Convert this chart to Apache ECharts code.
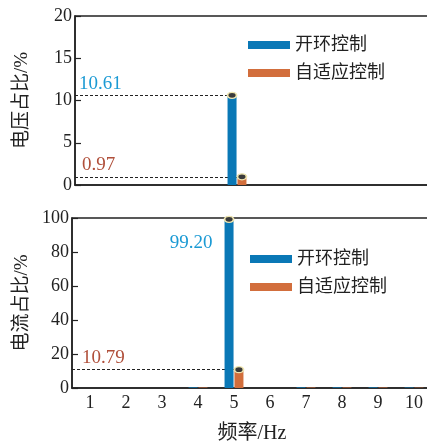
<!DOCTYPE html>
<html>
<head>
<meta charset="utf-8">
<script src="https://cdn.jsdelivr.net/npm/echarts@6/dist/echarts.min.js"></script>
<style>
  html, body { margin: 0; padding: 0; background: #fff; }
  #chart { width: 427px; height: 443px; }
</style>
</head>
<body>
<div id="chart"></div>
<script>
// Harmonic content at each frequency (Hz), in percent
const freqLabels = ['1', '2', '3', '4', '5', '6', '7', '8', '9', '10'];
const seriesNames = ['开环控制', '自适应控制'];

const voltOpenLoop = [0, 0, 0, 0, 10.61, 0, 0, 0, 0, 0];
const voltAdaptive = [0, 0, 0, 0, 0.97, 0, 0, 0, 0, 0];
const currOpenLoop = [0, 0, 0, 0.4, 99.20, 0, 0.4, 0.4, 0.4, 0.3];
const currAdaptive = [0, 0, 0, 0.3, 10.79, 0, 0.3, 0.3, 0.3, 0.2];

const voltTicks = [0, 5, 10, 15, 20];
const currTicks = [0, 20, 40, 60, 80, 100];

const FONT = '"Liberation Serif", "Noto Sans CJK SC", serif';
const INK = '#222';
const BLUE = '#0a78b6';
const ORANGE = '#d26e3c';
const BLUE_TXT = '#1b9ad4';
const RED_TXT = '#b04f3a';

const grids = [
  { left: 75, top: 16, width: 360, height: 169 },
  { left: 72, top: 218, width: 360, height: 170 }
];

function peakIndex(arr) {
  let k = 0;
  arr.forEach((v, i) => { if (v > arr[k]) k = i; });
  return k;
}

const fmt = v => v.toFixed(2);

const peakMarker = {
  symbol: 'circle',
  symbolSize: [9, 6],
  silent: true,
  label: { show: false },
  itemStyle: { color: '#3a3a3a', borderColor: '#efe6b0', borderWidth: 1.5 },
  data: [{ type: 'max' }]
};

// Dashed guide from the y axis to the top of a bar, labelled with its value
function guideLine(gridIdx, vals, color, dist) {
  const k = peakIndex(vals);
  const v = vals[k];
  return {
    silent: true,
    symbol: ['none', 'none'],
    z: 1,
    lineStyle: { color: INK, width: 1, type: [3, 2] },
    label: {
      show: true,
      position: 'insideStartTop',
      distance: dist,
      formatter: () => fmt(v),
      color: color,
      fontFamily: FONT,
      fontSize: 19
    },
    emphasis: { disabled: true },
    data: [[
      { xAxis: 0, yAxis: v, x: grids[gridIdx].left },
      { xAxis: k, yAxis: v }
    ]]
  };
}

function barSeries(name, gridIdx, vals, color, extra) {
  return Object.assign({
    name: name,
    type: 'bar',
    xAxisIndex: gridIdx,
    yAxisIndex: gridIdx,
    barWidth: 9,
    barGap: '10%',
    itemStyle: { color: color },
    markPoint: peakMarker,
    data: vals
  }, extra || {});
}

// Open-loop current peak is labelled beside its bar
const currOpenData = currOpenLoop.map((v, i) => i === peakIndex(currOpenLoop) ? {
  value: v,
  label: {
    show: true,
    position: [-12, 14],
    align: 'right',
    verticalAlign: 'top',
    formatter: p => fmt(p.value),
    color: BLUE_TXT,
    fontFamily: FONT,
    fontSize: 19
  }
} : v);

function xAxisCfg(gridIdx, showLabels) {
  return {
    type: 'category',
    gridIndex: gridIdx,
    data: freqLabels,
    boundaryGap: true,
    axisLine: { lineStyle: { color: INK, width: 1.5 } },
    axisTick: { inside: true, length: 6, alignWithLabel: true, lineStyle: { color: INK, width: 1.2 } },
    axisLabel: { show: showLabels, color: INK, fontFamily: FONT, fontSize: 18, margin: 6 },
    splitLine: { show: false },
    name: showLabels ? '频率/Hz' : '',
    nameLocation: 'middle',
    nameGap: 36,
    nameTextStyle: { color: INK, fontFamily: FONT, fontSize: 20 }
  };
}

function yAxisCfg(gridIdx, ticks, name, gap) {
  return {
    type: 'value',
    gridIndex: gridIdx,
    min: ticks[0],
    max: ticks[ticks.length - 1],
    interval: ticks[1] - ticks[0],
    axisLine: { show: true, lineStyle: { color: INK, width: 1.5 } },
    axisTick: { show: true, inside: true, length: 6, lineStyle: { color: INK, width: 1.2 } },
    axisLabel: { color: INK, fontFamily: FONT, fontSize: 18, margin: 3 },
    splitLine: { show: false },
    name: name,
    nameLocation: 'middle',
    nameRotate: 90,
    nameGap: gap,
    nameTextStyle: { color: INK, fontFamily: FONT, fontSize: 19 }
  };
}

function legendCfg(left, top) {
  return {
    data: seriesNames,
    orient: 'vertical',
    left: left,
    top: top,
    icon: 'rect',
    itemWidth: 42,
    itemHeight: 8,
    itemGap: 10,
    selectedMode: false,
    textStyle: { color: INK, fontFamily: FONT, fontSize: 18 }
  };
}

const chart = echarts.init(document.getElementById('chart'), null, { renderer: 'canvas' });

chart.setOption({
  animation: false,
  backgroundColor: '#fff',
  textStyle: { fontFamily: FONT },
  grid: grids.map(g => Object.assign({
    show: true,
    borderColor: INK,
    borderWidth: 1.5,
    backgroundColor: 'transparent',
    containLabel: false,
    outerBoundsMode: 'none'
  }, g)),
  legend: [legendCfg(243, 31), legendCfg(245, 245)],
  xAxis: [xAxisCfg(0, false), xAxisCfg(1, true)],
  yAxis: [
    yAxisCfg(0, voltTicks, '电压占比/%', 43),
    yAxisCfg(1, currTicks, '电流占比/%', 40)
  ],
  series: [
    barSeries(seriesNames[0], 0, voltOpenLoop, BLUE, { markLine: guideLine(0, voltOpenLoop, BLUE_TXT, [4, 2]) }),
    barSeries(seriesNames[1], 0, voltAdaptive, ORANGE, { markLine: guideLine(0, voltAdaptive, RED_TXT, [7, 2]) }),
    barSeries(seriesNames[0], 1, currOpenData, BLUE),
    barSeries(seriesNames[1], 1, currAdaptive, ORANGE, { markLine: guideLine(1, currAdaptive, RED_TXT, [10, 2]) })
  ]
});
</script>
</body>
</html>
